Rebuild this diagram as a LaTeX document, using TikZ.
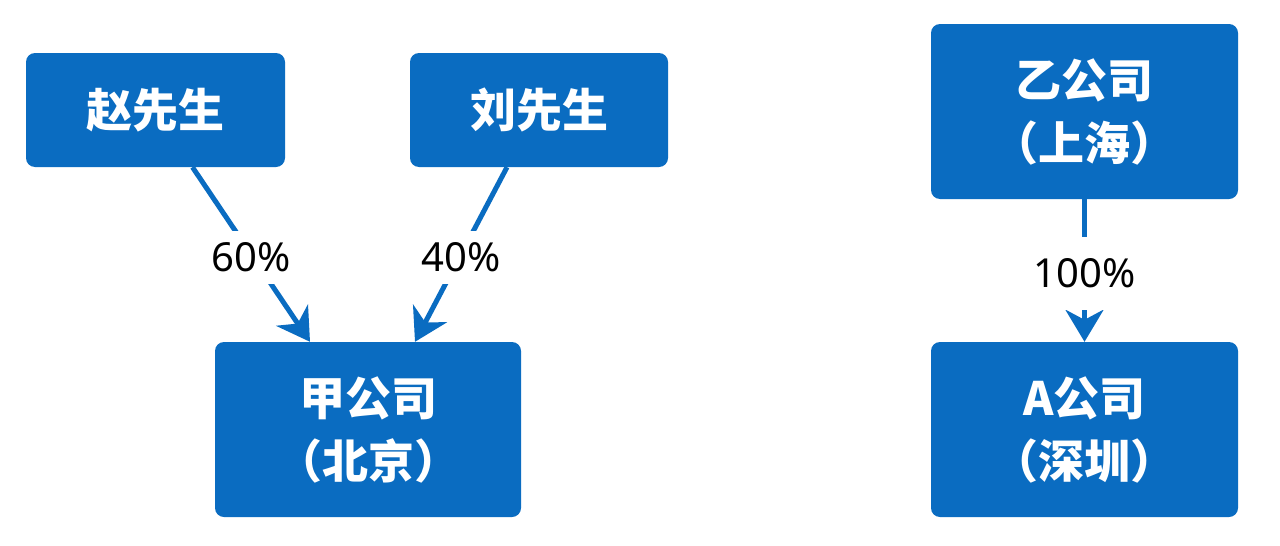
\documentclass[tikz,border=0pt]{standalone}
\usepackage{fontspec}
\newfontfamily\cjk{Noto Sans CJK SC}
\newfontfamily\lab{Noto Sans}
\usetikzlibrary{arrows.meta,calc}
\definecolor{boxblue}{RGB}{10,108,193}
\begin{document}
\begin{tikzpicture}[x=1pt,y=-1pt,
  box/.style={fill=boxblue, rounded corners=9pt, inner sep=0pt, text=white,
    font=\cjk\bfseries\fontsize{46}{63}\selectfont, align=center},
  link/.style={draw=boxblue, line width=5pt, -{Stealth[length=32pt,width=38pt,inset=10pt]}},
  pct/.style={fill=white, text=black, inner sep=12pt, yshift=-3pt, font=\lab\fontsize{40}{42}\selectfont}]
\useasboundingbox[fill=white] (0,0) rectangle (1280,546);
\node[box, minimum width=259pt, minimum height=114pt] (zhao) at (155.5,110) {赵先生};
\node[box, minimum width=258pt, minimum height=114pt] (liu) at (539,110) {刘先生};
\node[box, minimum width=306pt, minimum height=175pt] (jia) at (368,429.5) {甲公司\\（北京）};
\node[box, minimum width=307pt, minimum height=175pt] (yi) at (1084.5,111.5) {乙公司\\（上海）};
\node[box, minimum width=307pt, minimum height=175pt] (acomp) at (1084.5,429.5) {A公司\\（深圳）};
\draw[link] ($(zhao.south)+(37,0)$) -- node[pct]{60\%} ($(jia.north)+(-58,0)$);
\draw[link] ($(liu.south)+(-32,0)$) -- node[pct]{40\%} ($(jia.north)+(47,0)$);
\draw[link] (yi.south) -- node[pct, inner ysep=22pt]{100\%} (acomp.north);
\end{tikzpicture}
\end{document}
